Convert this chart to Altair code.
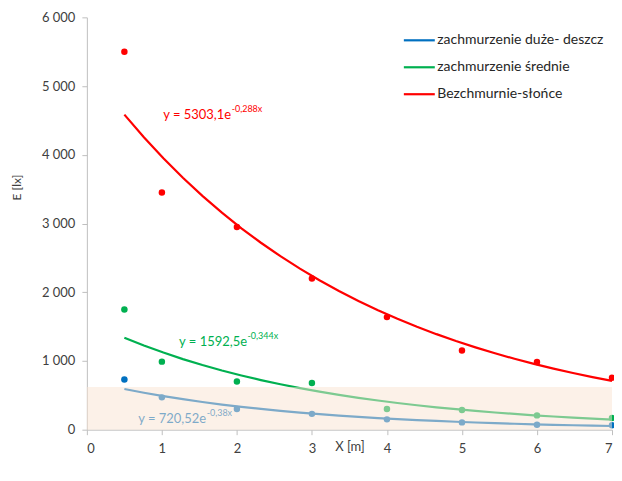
import altair as alt
import pandas as pd

# ---- data ----
x_vals = [0.5, 1, 2, 3, 4, 5, 6, 7]
blue_vals = [730, 470, 300, 230, 150, 106, 73, 63]
green_vals = [1750, 990, 700, 680, 300, 286, 208, 170]
red_vals = [5500, 3450, 2950, 2200, 1638, 1153, 984, 756]

series_names = ["zachmurzenie duże- deszcz", "zachmurzenie średnie", "Bezchmurnie-słońce"]
series_colors = ["#0070C0", "#00B050", "#FF0000"]

# trend-line equation labels (as shown in the chart)
label_main = ["y = 720,52e", "y = 1592,5e", "y = 5303,1e"]
label_exp = ["-0,38x", "-0,344x", "-0,288x"]
label_anchor_x = [1.59, 2.135, 1.923]
label_y = [160, 1280, 4580]

# highlighted low-illuminance band
band_low = [0]
band_high = [620]
band_x0 = [0]
band_x1 = [7]

x_ticks = [0, 1, 2, 3, 4, 5, 6, 7]
y_ticks = [0, 1000, 2000, 3000, 4000, 5000, 6000]

# ---- tables ----
rows = []
for name, vals in zip(series_names, [blue_vals, green_vals, red_vals]):
    for xv, yv in zip(x_vals, vals):
        rows.append({"series": name, "X": xv, "E": yv})
df = pd.DataFrame(rows)

labels_df = pd.DataFrame({
    "series": series_names,
    "main": label_main,
    "exp": label_exp,
    "ax": label_anchor_x,
    "ay": label_y,
    "col": series_colors,
})
band_df = pd.DataFrame({"x0": band_x0, "x1": band_x1, "y0": band_low, "y1": band_high})

FONT = "Lato"
TXT = "#404040"
AX = "#BFBFBF"

xscale = alt.Scale(domain=[0, 7], nice=False, zero=False)
yscale = alt.Scale(domain=[0, 6000], nice=False)
cscale = alt.Scale(domain=series_names, range=series_colors)

xaxis = alt.Axis(values=x_ticks, title="X [m]", grid=False, tickSize=5,
                 labelPadding=8, format="d",
                 titleY=21, titleBaseline="alphabetic")
yaxis = alt.Axis(values=y_ticks, title="E [lx]", grid=False, tickSize=5,
                 labelPadding=7, titleFontSize=12,
                 labelExpr="replace(format(datum.value, ','), ',', ' ')",
                 titleX=-70, titleY=170, titleAlign="center", titleBaseline="middle")

legend = alt.Legend(title=None, orient="none", legendX=316, legendY=6,
                    symbolType="stroke", symbolSize=961, symbolStrokeWidth=2.2,
                    labelFont=FONT, labelFontSize=14, labelColor="#262626",
                    labelOffset=1, rowPadding=3, padding=0, labelLimit=400)

base = alt.Chart(df)

points = base.mark_circle(size=42, opacity=1).encode(
    x=alt.X("X:Q", scale=xscale, axis=xaxis),
    y=alt.Y("E:Q", scale=yscale, axis=yaxis),
    color=alt.Color("series:N", scale=cscale, legend=legend),
)

trend = (
    base.transform_calculate(ly="log(datum.E)")
    .transform_regression("X", "ly", method="poly", order=1,
                          groupby=["series"], extent=[0.5, 7])
    .transform_calculate(E="exp(datum.ly)")
    .mark_line(strokeWidth=2.2)
    .encode(
        x=alt.X("X:Q", scale=xscale),
        y=alt.Y("E:Q", scale=yscale),
        color=alt.Color("series:N", scale=cscale, legend=legend),
    )
)

lab_base = alt.Chart(labels_df)
lab_main = lab_base.mark_text(align="right", baseline="middle", font=FONT, fontSize=13).encode(
    x=alt.X("ax:Q", scale=xscale),
    y=alt.Y("ay:Q", scale=yscale),
    text="main:N",
    color=alt.Color("col:N", scale=None),
)
lab_exp = lab_base.mark_text(align="left", baseline="middle", font=FONT, fontSize=9, dx=0.5, dy=-6).encode(
    x=alt.X("ax:Q", scale=xscale),
    y=alt.Y("ay:Q", scale=yscale),
    text="exp:N",
    color=alt.Color("col:N", scale=None),
)

band = alt.Chart(band_df).mark_rect(color="#F9E3D1", opacity=0.5).encode(
    x=alt.X("x0:Q", scale=xscale),
    x2="x1:Q",
    y=alt.Y("y0:Q", scale=yscale),
    y2="y1:Q",
)

chart = (
    alt.layer(trend, points, lab_main, lab_exp, band)
    .properties(
        width=526, height=413,
        padding={"left": 79, "top": 9, "right": 2, "bottom": 25},
        autosize=alt.AutoSizeParams(type="none"),
    )
    .configure_view(stroke=None)
    .configure_axis(
        labelFont=FONT, labelFontSize=13, labelColor=TXT,
        titleFont=FONT, titleFontSize=13, titleColor=TXT, titleFontWeight="normal",
        domainColor=AX, tickColor=AX, domainWidth=1, tickWidth=1,
    )
)

chart.save("out.html", embed_options={"renderer": "svg", "actions": False})
